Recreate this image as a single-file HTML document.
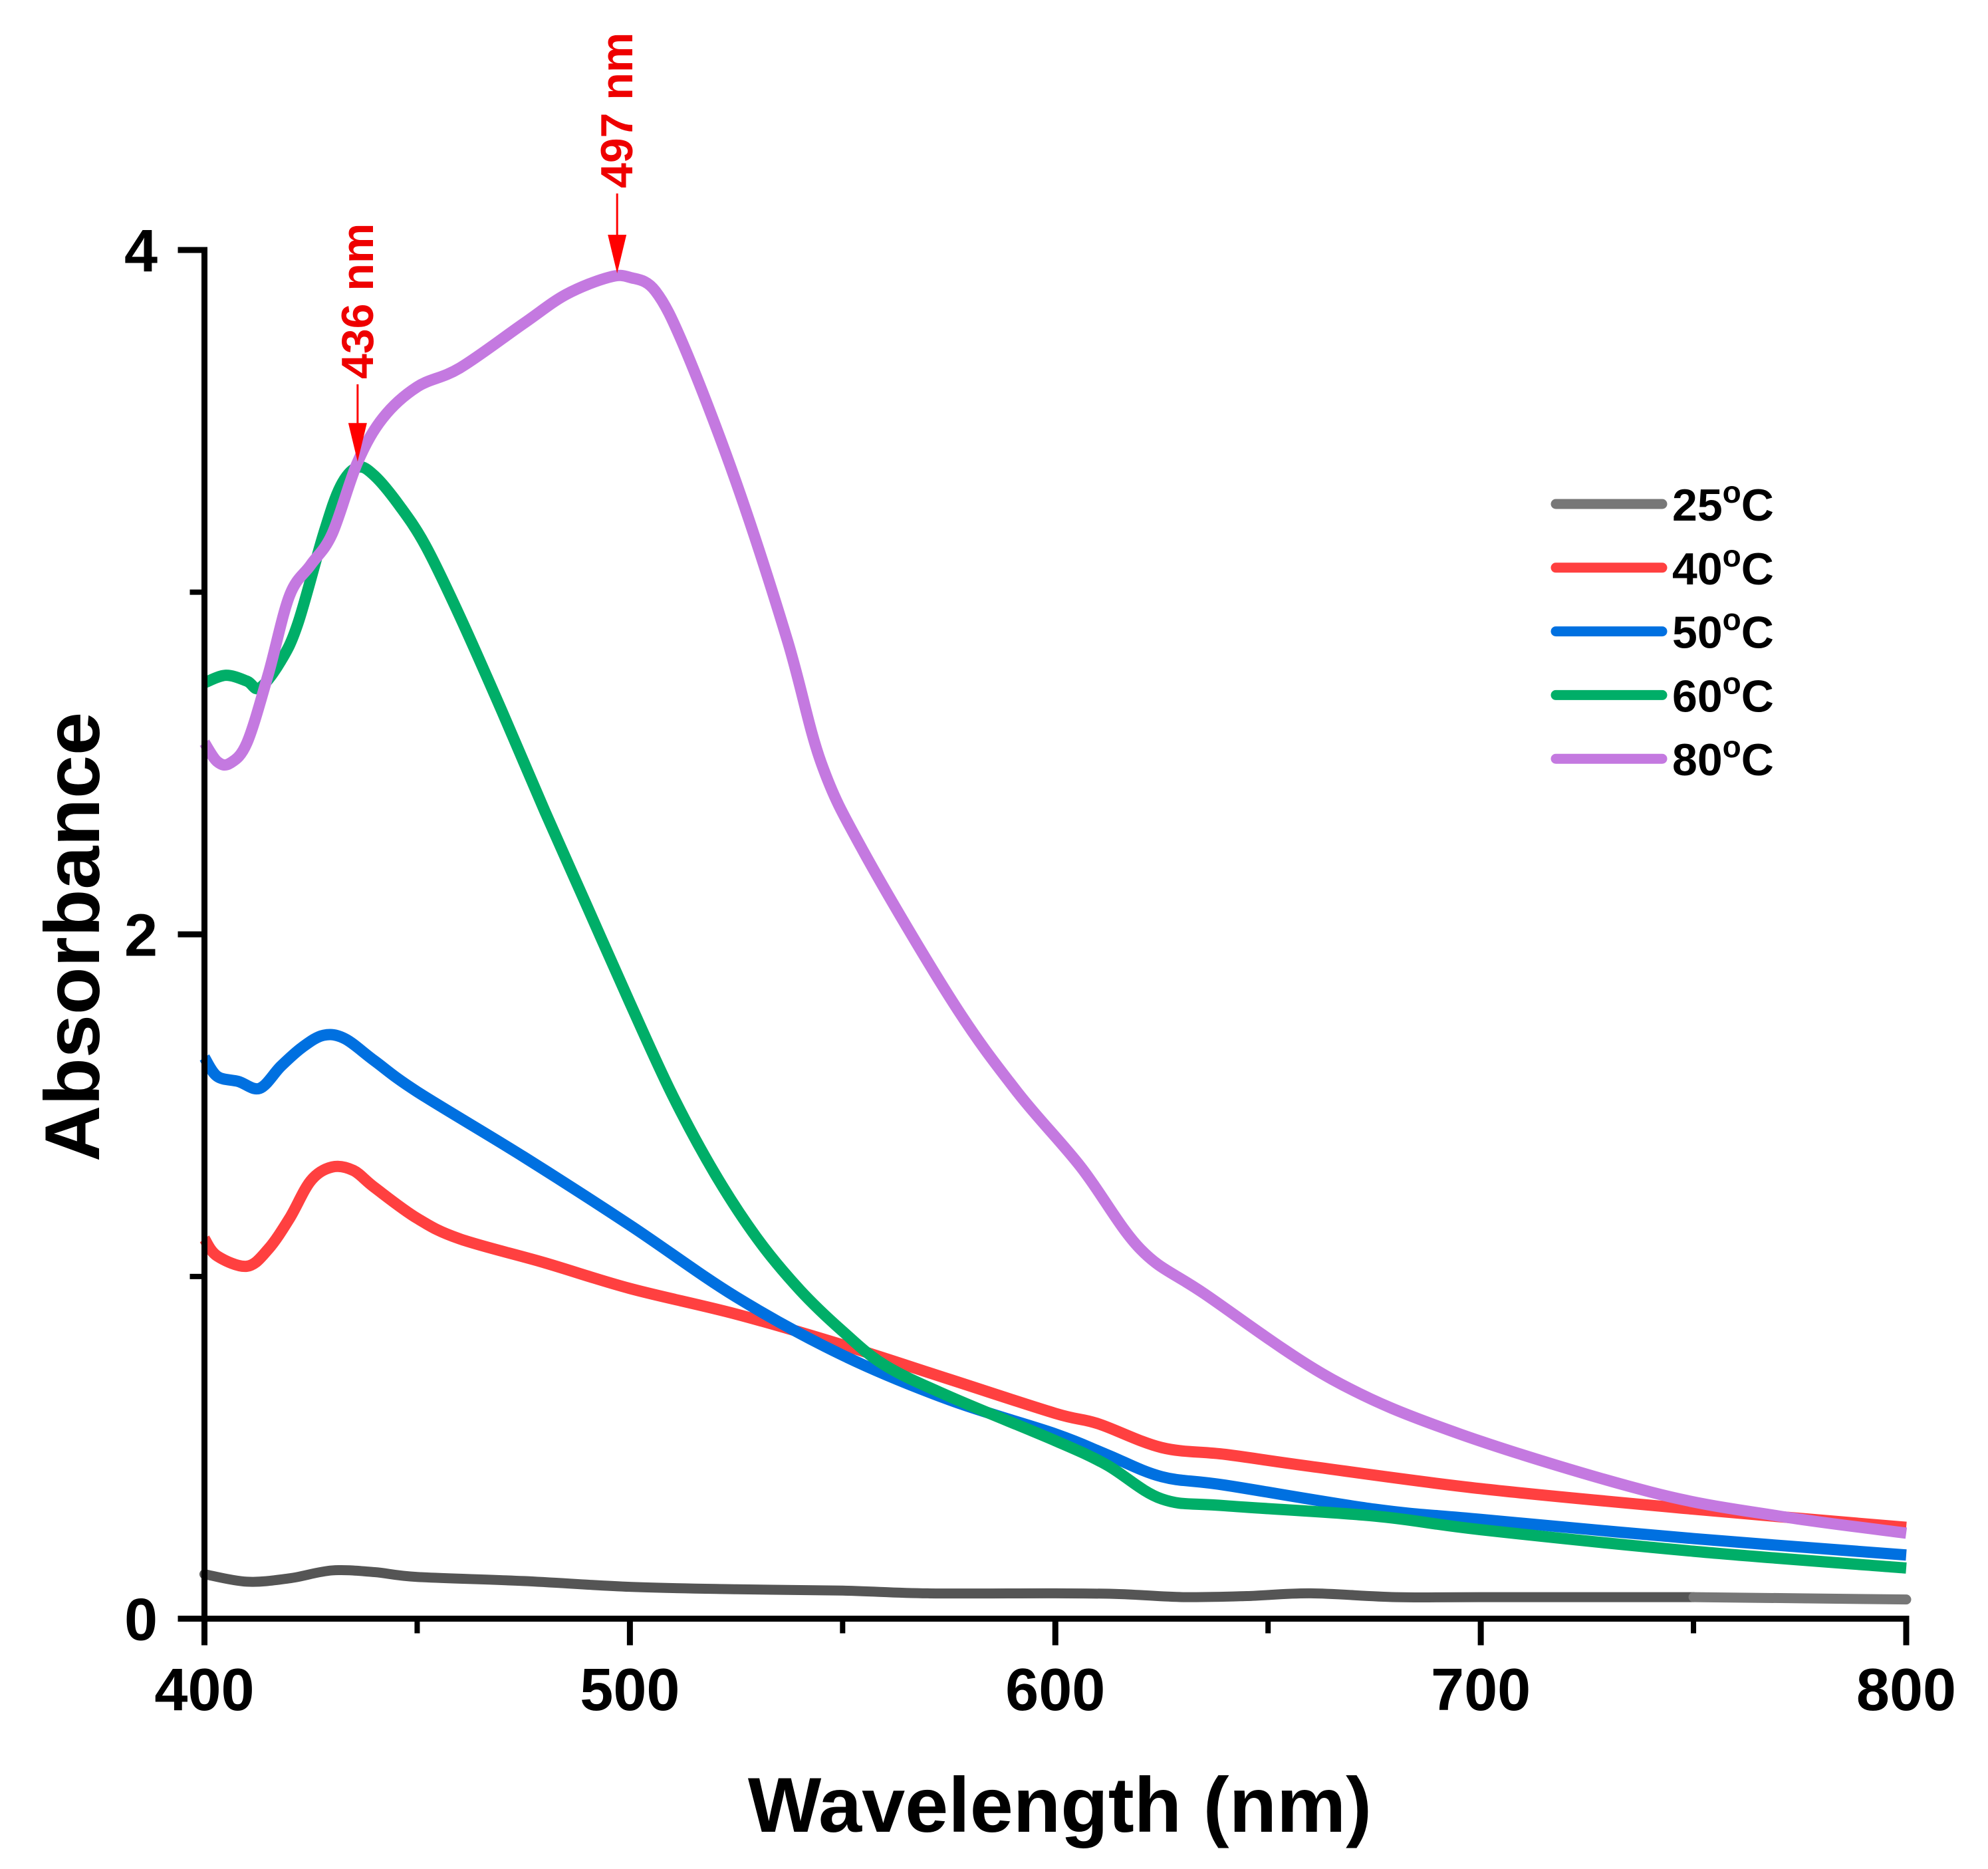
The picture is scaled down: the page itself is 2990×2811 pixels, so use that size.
<!DOCTYPE html>
<html><head><meta charset="utf-8"><style>
html,body{margin:0;padding:0;background:#fff;}
svg{display:block;font-family:"Liberation Sans",Arial,sans-serif;font-weight:bold;}
</style></head><body>
<svg id="chart" width="2990" height="2811" viewBox="0 0 2990 2811" xmlns="http://www.w3.org/2000/svg">
<g id="series"></g>
<g id="axes"></g>
<text x="1594" y="2755" font-size="117" text-anchor="middle">Wavelength (nm)</text>
<text transform="translate(149,1409) rotate(-90)" font-size="117" text-anchor="middle">Absorbance</text>
<g id="legend"></g>
<g id="annotations"></g>
</svg>
<script>
const NS="http://www.w3.org/2000/svg";
const xTicks=[400,500,600,700,800];
const xMinor=[450,550,650,750];
const yTicks=[0,2,4];
const yMinor=[1,3];
const seriesNames=["25ºC","40ºC","50ºC","60ºC","80ºC"];
const seriesColors=["#555555","#ff4040","#0070e0","#00ae68","#c479e0"];
const wl25=[400,410,420,430,440,450,475,500,525,550,570,600,615,630,645,660,680,700,750,800];
const abs25=[0.13,0.108,0.118,0.141,0.136,0.122,0.11,0.093,0.086,0.082,0.074,0.074,0.072,0.063,0.066,0.074,0.063,0.063,0.063,0.056];
const wl40=[400,403,410,415,420,425,430,435,440,450,460,480,500,525,550,575,600,610,625,640,660,700,750,800];
const abs40=[1.11,1.06,1.03,1.08,1.17,1.28,1.32,1.31,1.26,1.17,1.11,1.04,0.965,0.89,0.8,0.7,0.6,0.57,0.5,0.48,0.445,0.38,0.32,0.267];
const wl50=[400,403,408,413,418,423,428,433,440,450,475,500,525,550,575,600,612,625,640,675,700,750,800];
const abs50=[1.64,1.585,1.57,1.55,1.615,1.67,1.705,1.695,1.63,1.54,1.35,1.15,0.94,0.77,0.64,0.54,0.48,0.415,0.39,0.32,0.29,0.234,0.186];
const wl60=[400,405,410,413,418,422,428,432,436,440,446,452,460,470,480,490,500,510,520,530,540,550,560,575,600,612,625,640,675,700,750,800];
const abs60=[2.735,2.757,2.74,2.72,2.8,2.91,3.17,3.31,3.365,3.34,3.25,3.135,2.93,2.65,2.36,2.08,1.8,1.53,1.3,1.11,0.96,0.84,0.74,0.65,0.52,0.45,0.35,0.33,0.3,0.26,0.197,0.148];
const wl80=[400,403,406,410,415,420,425,430,436,442,450,460,475,485,495,500,506,513,525,537,545,555,576,591,606,620,635,665,695,740,770,800];
const abs80=[2.56,2.505,2.5,2.56,2.76,2.99,3.08,3.17,3.38,3.51,3.6,3.655,3.785,3.87,3.92,3.92,3.88,3.71,3.32,2.86,2.5,2.24,1.8,1.54,1.32,1.08,0.95,0.7,0.54,0.37,0.3,0.25];
const peakLabels=[436,497];
const peakAbs=[3.37,3.92];

const X0=307.5,X1=2867,Y0=2434.5,Y4=376;
const sx=v=>X0+(v-400)/400*(X1-X0);
const sy=v=>Y0-v/4*(Y0-Y4);
function mk(tag,attrs,parent){const e=document.createElementNS(NS,tag);for(const k in attrs)e.setAttribute(k,attrs[k]);parent.appendChild(e);return e;}
function smooth(pts){let d="M"+pts[0][0]+","+pts[0][1];for(let i=0;i<pts.length-1;i++){const p0=pts[i-1]||pts[i],p1=pts[i],p2=pts[i+1],p3=pts[i+2]||p2;const c1=[p1[0]+(p2[0]-p0[0])/6,p1[1]+(p2[1]-p0[1])/6],c2=[p2[0]-(p3[0]-p1[0])/6,p2[1]-(p3[1]-p1[1])/6];d+=" C"+c1[0]+","+c1[1]+" "+c2[0]+","+c2[1]+" "+p2[0]+","+p2[1];}return d;}

const sg=document.getElementById("series");
const allW=[wl25,wl40,wl50,wl60,wl80],allA=[abs25,abs40,abs50,abs60,abs80];
allW.forEach((w,si)=>{
  if(si===0){
    const a=[],b=[];
    w.forEach((x,i)=>{const p=[sx(x),sy(allA[0][i])];if(x<=750)a.push(p);if(x>=750)b.push(p);});
    const p1=mk("path",{d:smooth(a),fill:"none",stroke:"#555555","stroke-width":15,"stroke-linecap":"round"},sg);
    
    
    const p2=mk("path",{d:smooth(b),fill:"none",stroke:"#777777","stroke-width":15,"stroke-linecap":"round"},sg);
    
    
    return;
  }
  const pts=w.map((x,i)=>[sx(x),sy(allA[si][i])]);
  const p=mk("path",{d:smooth(pts),fill:"none",stroke:seriesColors[si],"stroke-width":17,"stroke-linejoin":"round"},sg);
  
  
});

const ax=document.getElementById("axes");
const yl=mk("line",{x1:X0,y1:Y4-4.5,x2:X0,y2:Y0+40,stroke:"#000","stroke-width":9},ax);


const xl=mk("line",{x1:X0-40,y1:Y0,x2:X1+4.5,y2:Y0,stroke:"#000","stroke-width":9},ax);


xTicks.forEach(t=>{
  const l=mk("line",{x1:sx(t),y1:Y0,x2:sx(t),y2:Y0+40,stroke:"#000","stroke-width":9},ax);
  
  
  const tx=mk("text",{x:sx(t),y:2572,"font-size":90,"text-anchor":"middle"},ax);tx.textContent=t;
  
  
});
xMinor.forEach(t=>{
  const l=mk("line",{x1:sx(t),y1:Y0,x2:sx(t),y2:Y0+22,stroke:"#000","stroke-width":8},ax);
  
  
});
yTicks.forEach(t=>{
  const l=mk("line",{x1:X0-40,y1:sy(t),x2:X0,y2:sy(t),stroke:"#000","stroke-width":9},ax);
  
  
  const tx=mk("text",{x:237,y:sy(t)+32,"font-size":90,"text-anchor":"end"},ax);tx.textContent=t;
  
  
});
yMinor.forEach(t=>{
  const l=mk("line",{x1:X0-22,y1:sy(t),x2:X0,y2:sy(t),stroke:"#000","stroke-width":8},ax);
  
  
});

const lg=document.getElementById("legend");
const legColors=["#777777","#ff4040","#0070e0","#00ae68","#c479e0"];
seriesNames.forEach((n,i)=>{
  const y=758+i*95.8;
  const l=mk("line",{x1:2340,y1:y,x2:2500,y2:y,stroke:legColors[i],"stroke-width":15,"stroke-linecap":"round"},lg);
  
  
  const t=mk("text",{x:2515,y:y+25,"font-size":68},lg);
  
  
  t.appendChild(document.createTextNode(n.slice(0,2)));
  const s=mk("tspan",{"font-size":46,dy:-27},t);s.textContent="o";
  const c=mk("tspan",{dy:27},t);c.textContent="C";
});

const an=document.getElementById("annotations");
peakLabels.forEach((p,i)=>{
  const x=sx(p),tipY=sy(peakAbs[i])-6;
  const textBottom=i===0?570:283;
  const l=mk("line",{x1:x,y1:textBottom+8,x2:x,y2:tipY-50,stroke:"#ff0000","stroke-width":3},an);
  
  
  const h=mk("polygon",{points:(x-14)+","+(tipY-58)+" "+(x+14)+","+(tipY-58)+" "+x+","+tipY,fill:"#ff0000"},an);
  
  
  const t=mk("text",{transform:"translate("+(x+23)+","+textBottom+") rotate(-90)","font-size":68,fill:"#ee0000"},an);
  t.textContent=p+" nm";
  
  
});
</script>
</body></html>
